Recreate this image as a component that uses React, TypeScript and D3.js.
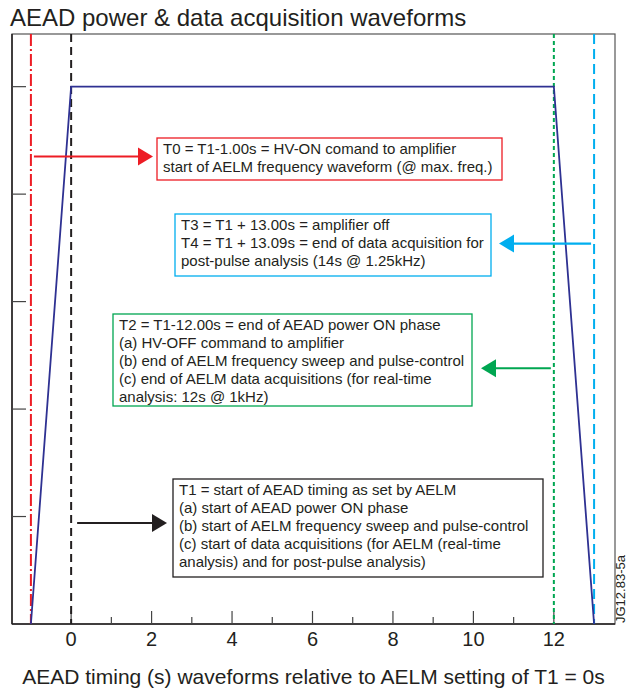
import React from "react";
import * as d3 from "d3";

// Amplifier power waveform (time in s relative to T1, normalised level)
const waveTime = [-1, 0, 12, 13];
const waveLevel = [0, 5, 5, 0];

// Timing markers
const markerNames = ["T0", "T1", "T2", "T3"];
const markerTimes = [-1, 0, 12, 13];

const xMajorTicks = [0, 2, 4, 6, 8, 10, 12];
const xMinorTicks = [1, 3, 5, 7, 9, 11];
const yTicks = [1, 2, 3, 4, 5];

const titleText = "AEAD power & data acquisition waveforms";
const xAxisTitle = "AEAD timing (s) waveforms relative to AELM setting of T1 = 0s";
const figureId = "JG12.83-5a";

const t0Lines = [
  "T0 = T1-1.00s = HV-ON comand to amplifier",
  "start of AELM frequency waveform (@ max. freq.)",
];
const t3Lines = [
  "T3 = T1 + 13.00s = amplifier off",
  "T4 = T1 + 13.09s = end of data acquisition for",
  "post-pulse analysis (14s @ 1.25kHz)",
];
const t2Lines = [
  "T2 = T1-12.00s = end of AEAD power ON phase",
  "(a) HV-OFF command to amplifier",
  "(b) end of AELM frequency sweep and pulse-control",
  "(c) end of AELM data acquisitions (for real-time",
  "analysis: 12s @ 1kHz)",
];
const t1Lines = [
  "T1 = start of AEAD timing as set by AELM",
  "(a) start of AEAD power ON phase",
  "(b) start of AELM frequency sweep and pulse-control",
  "(c) start of data acquisitions (for AELM (real-time",
  "analysis) and for post-pulse analysis)",
];

const FONT = "'Liberation Sans', Arial, Helvetica, sans-serif";
const INK = "#231f20";
const RED = "#ed1c24";
const CYAN = "#00aeef";
const GREEN = "#00a651";
const NAVY = "#2e3192";

const markerStyles = [
  { color: RED, dash: "12 3 2 3" },
  { color: INK, dash: "8 5" },
  { color: GREEN, dash: "4 3" },
  { color: CYAN, dash: "10 5" },
];

const W = 629;
const H = 691;
const plot = { left: 12, right: 615, top: 34, bottom: 624 };

type Note = {
  lines: string[];
  color: string;
  box: { x: number; y: number; w: number; h: number };
  markerIndex: number;
  level: number; // arrow height in waveform units
  arrowFrom: number; // pixel offset from marker line
  tipX: number;
};

export default function App() {
  const x = d3.scaleLinear().domain([-1.47, 13.52]).range([plot.left, plot.right]);
  const y = d3.scaleLinear().domain([0, 5.49]).range([plot.bottom, plot.top]);

  const wave = d3
    .line<number>()
    .x((_, i) => x(waveTime[i]))
    .y((d) => y(d));

  const notes: Note[] = [
    { lines: t0Lines, color: RED, box: { x: 157, y: 138, w: 345, h: 42 }, markerIndex: 0, level: 4.35, arrowFrom: 3, tipX: 153 },
    { lines: t3Lines, color: CYAN, box: { x: 175, y: 214, w: 316, h: 62 }, markerIndex: 3, level: 3.54, arrowFrom: -3, tipX: 499 },
    { lines: t2Lines, color: GREEN, box: { x: 113, y: 314, w: 359, h: 92 }, markerIndex: 2, level: 2.38, arrowFrom: -3, tipX: 481 },
    { lines: t1Lines, color: INK, box: { x: 173, y: 479, w: 370, h: 98 }, markerIndex: 1, level: 0.94, arrowFrom: 6, tipX: 167 },
  ];

  return (
    <svg width={W} height={H} style={{ position: "absolute", left: 0, top: 0, background: "#fff" }} fontFamily={FONT}>
      <rect width={W} height={H} fill="#fff" />
      <text x={10} y={26} fontSize={24} fill={INK}>
        {titleText}
      </text>

      {/* frame */}
      <rect
        x={plot.left}
        y={plot.top}
        width={plot.right - plot.left}
        height={plot.bottom - plot.top}
        fill="none"
        stroke="#555"
        strokeWidth={1.2}
      />
      <line x1={plot.left} x2={plot.left} y1={plot.top} y2={plot.bottom} stroke={INK} strokeWidth={1.5} />
      <line x1={plot.left} x2={plot.right} y1={plot.bottom} y2={plot.bottom} stroke={INK} strokeWidth={1.5} />

      {/* y ticks */}
      {yTicks.map((t) => (
        <line key={"y" + t} x1={plot.left} x2={plot.left + 14} y1={y(t)} y2={y(t)} stroke="#444" strokeWidth={1.2} />
      ))}
      {/* x ticks */}
      {xMajorTicks.map((t) => (
        <line key={"xM" + t} x1={x(t)} x2={x(t)} y1={plot.bottom} y2={plot.bottom - 13} stroke="#444" strokeWidth={1.2} />
      ))}
      {xMinorTicks.map((t) => (
        <line key={"xm" + t} x1={x(t)} x2={x(t)} y1={plot.bottom} y2={plot.bottom - 7} stroke="#444" strokeWidth={1.2} />
      ))}
      {xMajorTicks.map((t) => (
        <text key={"xl" + t} x={x(t)} y={646} fontSize={20} textAnchor="middle" fill={INK}>
          {t}
        </text>
      ))}

      {/* timing marker lines */}
      {markerTimes.map((t, i) => (
        <line
          key={markerNames[i]}
          x1={x(t)}
          x2={x(t)}
          y1={plot.top}
          y2={plot.bottom}
          stroke={markerStyles[i].color}
          strokeWidth={2}
          strokeDasharray={markerStyles[i].dash}
        />
      ))}

      {/* power waveform */}
      <path d={wave(waveLevel) ?? ""} fill="none" stroke={NAVY} strokeWidth={1.8} />

      {/* annotations */}
      {notes.map((n, k) => {
        const ay = y(n.level);
        const x0 = x(markerTimes[n.markerIndex]) + n.arrowFrom;
        const dir = n.tipX > x0 ? 1 : -1;
        const base = n.tipX - dir * 15;
        return (
          <g key={"note" + k}>
            <line x1={x0} x2={base} y1={ay} y2={ay} stroke={n.color} strokeWidth={2.2} />
            <path d={`M${n.tipX},${ay} L${base},${ay - 9} L${base},${ay + 9} Z`} fill={n.color} />
            <rect x={n.box.x} y={n.box.y} width={n.box.w} height={n.box.h} fill="#fff" stroke={n.color} strokeWidth={1.3} />
            {n.lines.map((s, j) => (
              <text key={j} x={n.box.x + 6} y={n.box.y + 16 + j * 18} fontSize={15} fill={INK}>
                {s}
              </text>
            ))}
          </g>
        );
      })}

      <text x={W / 2 - 1} y={684} fontSize={21} textAnchor="middle" fill={INK}>
        {xAxisTitle}
      </text>
      <text transform="translate(625,623) rotate(-90)" fontSize={13} fill={INK}>
        {figureId}
      </text>
    </svg>
  );
}
